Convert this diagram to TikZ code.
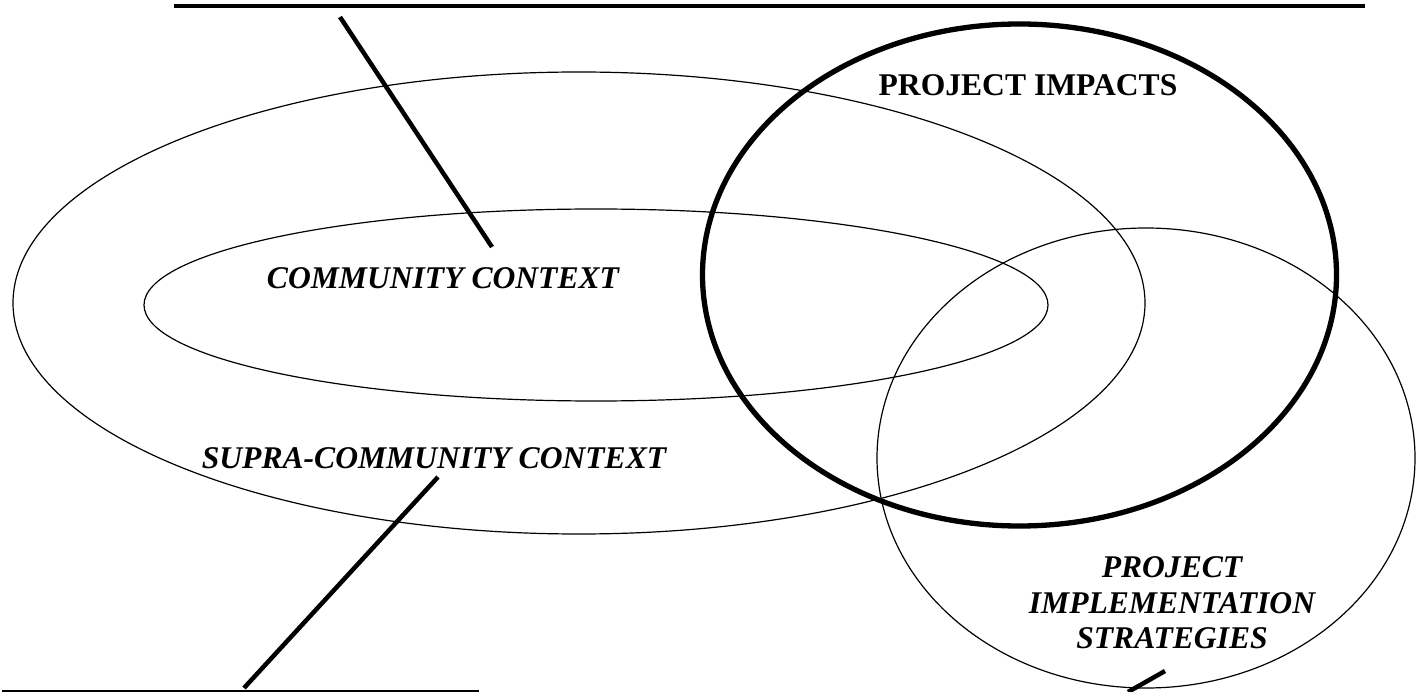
\documentclass[tikz,border=0pt]{standalone}
\usepackage{fontspec}
\setmainfont{Liberation Serif}
\usepackage{tikz}
\usetikzlibrary{calc}

\begin{document}
\begin{tikzpicture}[line cap=butt,line join=round,x=1pt,y=-1pt,scale=1]
\tikzset{thin line/.style={line width=1.2pt},
    thick line/.style={line width=4.5pt},
    label text/.style={font=\fontsize{31.6}{35.5}\selectfont\bfseries\itshape, inner sep=0pt}}
\def\fs{31.6}
\useasboundingbox (0,0) rectangle (1426,692);

% context ellipses
\draw [thin line] (579,303) ellipse [x radius=566, y radius=231];
\draw [thin line] (596,305) ellipse [x radius=452, y radius=96];

% project ellipses
\draw [line width=5.3pt] (1019.5,275) ellipse [x radius=317, y radius=251];
\draw [thin line] (1146,458) ellipse [x radius=269, y radius=230];

% labels
\node [label text, font=\fontsize{\fs}{35.5}\selectfont\bfseries, anchor=base] (impacts) at (1028,96) {PROJECT IMPACTS};
\node [label text, anchor=base] (community) at (443,289) {COMMUNITY CONTEXT};
\node [label text, anchor=base] (supra) at (434,468) {SUPRA-COMMUNITY CONTEXT};
\node [label text, align=center] (strategies) at (1172,603) {PROJECT\\IMPLEMENTATION\\STRATEGIES};

% rules
\coordinate (topL) at (174,6);
\coordinate (topR) at (1365,6);
\coordinate (botL) at (2,691);
\coordinate (botR) at (479,691);
\draw [line width=4pt] (topL) -- (topR);
\draw [thin line] (botL) -- (botR);

% pointer lines
\coordinate (p1a) at (340,17);
\coordinate (p1b) at (492,247);
\coordinate (p2a) at (438,477);
\coordinate (p2b) at (244,688);
\coordinate (p3a) at (1165,671);
\coordinate (p3b) at (1128,692);
\draw [thick line] (p1a) -- (p1b);
\draw [thick line] (p2a) -- (p2b);
\draw [thick line] (p3a) -- (p3b);

\end{tikzpicture}
\end{document}
